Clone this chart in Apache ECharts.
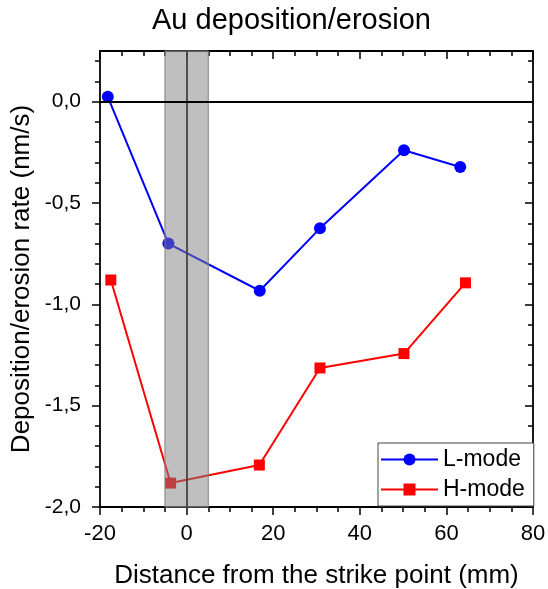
<!DOCTYPE html>
<html>
<head>
<meta charset="utf-8">
<script src="https://cdn.jsdelivr.net/npm/echarts@6/dist/echarts.min.js"></script>
<style>
    html, body { margin: 0; padding: 0; background: #fff; }
    #chart { width: 548px; height: 589px; }
</style>
</head>
<body>
<div id="chart"></div>
<script>
// distances (mm) and rates (nm/s)
const lModeX = [-18.2, -4.2, 16.9, 30.8, 50.2, 63.2];
const lModeY = [0.024, -0.70, -0.933, -0.625, -0.24, -0.322];
const hModeX = [-17.5, -3.7, 16.8, 30.8, 50.2, 64.4];
const hModeY = [-0.88, -1.882, -1.793, -1.314, -1.243, -0.894];
const bandX  = [-5, 5];
const xTicks = [-20, 80, 20];
const yTicks = [-2, 0.25, 0.5];

const font = 'Liberation Sans, Arial, sans-serif';
const plotTop = 51, plotBottom = 82, plotLeft = 100, plotRight = 15;
const pxPerUnit = (589 - plotTop - plotBottom) / (yTicks[1] - yTicks[0]);

const zip = (xs, ys) => xs.map((x, i) => [x, ys[i]]);
const commaFmt = v => v.toFixed(1).replace('.', ',');

const axisLine = { show: true, onZero: false, lineStyle: { color: '#000', width: 1.8 } };
const noLine = { show: false, onZero: false };
const tickStyle = { color: '#000', width: 1.5 };

const makeGrid = top => ({
    left: plotLeft, right: plotRight, top: top, bottom: plotBottom,
    containLabel: false, outerBoundsMode: 'none'
});

const chart = echarts.init(document.getElementById('chart'));

const option = {
    animation: false,
    textStyle: { fontFamily: font, color: '#000' },
    title: {
        text: 'Au deposition/erosion',
        left: 152,
        top: 6,
        padding: 0,
        textStyle: { fontFamily: font, fontSize: 29, fontWeight: 'normal', color: '#000' }
    },
    legend: {
        data: ['L-mode', 'H-mode'],
        orient: 'vertical',
        left: 378,
        top: 443,
        backgroundColor: '#fff',
        borderColor: '#444',
        borderWidth: 1,
        borderRadius: 0,
        padding: [5, 9, 5, 2],
        itemWidth: 57,
        itemHeight: 15,
        itemGap: 7,
        z: 20,
        textStyle: { fontFamily: font, fontSize: 23, color: '#000' }
    },
    grid: [
        makeGrid(plotTop),
        makeGrid(plotTop + yTicks[1] * pxPerUnit),
        makeGrid(plotTop + 0.05 * pxPerUnit)
    ],
    xAxis: [
        {
            gridIndex: 0, type: 'value', position: 'bottom',
            min: xTicks[0], max: xTicks[1], interval: xTicks[2],
            axisLine: axisLine,
            axisTick: { length: 8, lineStyle: tickStyle },
            minorTick: { show: true, splitNumber: 4, length: 5, lineStyle: tickStyle },
            axisLabel: { fontSize: 22, margin: 16, color: '#000', fontFamily: font },
            splitLine: { show: false },
            name: 'Distance from the strike point (mm)',
            nameLocation: 'middle',
            nameGap: 56,
            nameTextStyle: { fontSize: 26, color: '#000', fontFamily: font }
        },
        {
            gridIndex: 0, type: 'value', position: 'top',
            min: xTicks[0], max: xTicks[1], interval: xTicks[2],
            axisLine: axisLine,
            axisTick: { inside: true, length: 8, lineStyle: tickStyle },
            minorTick: { show: true, splitNumber: 4, length: 5, lineStyle: tickStyle },
            axisLabel: { show: false },
            splitLine: { show: false }
        },
        { gridIndex: 1, type: 'value', show: false, min: xTicks[0], max: xTicks[1] },
        { gridIndex: 2, type: 'value', show: false, min: xTicks[0], max: xTicks[1] }
    ],
    yAxis: [
        {
            gridIndex: 0, type: 'value', position: 'left',
            min: yTicks[0], max: yTicks[1],
            axisLine: axisLine,
            axisTick: { show: false },
            axisLabel: { show: false },
            splitLine: { show: false },
            name: 'Deposition/erosion rate (nm/s)',
            nameLocation: 'middle',
            nameGap: 65,
            nameTextStyle: { fontSize: 26, color: '#000', fontFamily: font }
        },
        {
            gridIndex: 0, type: 'value', position: 'right',
            min: yTicks[0], max: yTicks[1],
            axisLine: axisLine,
            axisTick: { show: false },
            axisLabel: { show: false },
            splitLine: { show: false }
        },
        // major ticks and labels, -2.0 .. 0.0
        {
            gridIndex: 1, type: 'value', position: 'left',
            min: yTicks[0], max: 0, interval: yTicks[2],
            axisLine: noLine,
            axisTick: { show: true, length: 8, lineStyle: tickStyle },
            axisLabel: { fontSize: 21, margin: 19, color: '#000', fontFamily: font, formatter: commaFmt },
            splitLine: { show: false }
        },
        {
            gridIndex: 1, type: 'value', position: 'right',
            min: yTicks[0], max: 0, interval: yTicks[2],
            axisLine: noLine,
            axisTick: { show: true, inside: true, length: 8, lineStyle: tickStyle },
            axisLabel: { show: false },
            splitLine: { show: false }
        },
        // minor ticks every 0.1, -2.0 .. 0.2
        {
            gridIndex: 2, type: 'value', position: 'left',
            min: yTicks[0], max: 0.2, interval: 0.1,
            axisLine: noLine,
            axisTick: { show: true, length: 5, lineStyle: tickStyle },
            axisLabel: { show: false },
            splitLine: { show: false }
        },
        {
            gridIndex: 2, type: 'value', position: 'right',
            min: yTicks[0], max: 0.2, interval: 0.1,
            axisLine: noLine,
            axisTick: { show: true, inside: true, length: 5, lineStyle: tickStyle },
            axisLabel: { show: false },
            splitLine: { show: false }
        }
    ],
    series: [
        {
            name: 'L-mode',
            type: 'line',
            xAxisIndex: 0, yAxisIndex: 0,
            data: zip(lModeX, lModeY),
            symbol: 'circle',
            symbolSize: 12,
            color: '#0000ff',
            lineStyle: { color: '#0000ff', width: 2 },
            itemStyle: { color: '#0000ff' },
            z: 3
        },
        {
            name: 'H-mode',
            type: 'line',
            xAxisIndex: 0, yAxisIndex: 0,
            data: zip(hModeX, hModeY),
            symbol: 'rect',
            symbolSize: 11,
            color: '#ff0000',
            lineStyle: { color: '#ff0000', width: 2 },
            itemStyle: { color: '#ff0000' },
            z: 3
        },
        {
            name: 'band',
            type: 'line',
            xAxisIndex: 0, yAxisIndex: 0,
            data: [],
            z: 10,
            markArea: {
                silent: true,
                z: 10,
                itemStyle: { color: 'rgba(128,128,128,0.5)', borderColor: '#808080', borderWidth: 1 },
                data: [[{ xAxis: bandX[0] }, { xAxis: bandX[1] }]]
            },
            markLine: {
                silent: true,
                z: 11,
                symbol: 'none',
                label: { show: false },
                data: [
                    { xAxis: 0, lineStyle: { color: '#444', width: 1.8, type: 'solid' } },
                    { yAxis: 0, lineStyle: { color: '#000', width: 1.8, type: 'solid' } }
                ]
            }
        }
    ]
};

chart.setOption(option);
</script>
</body>
</html>
